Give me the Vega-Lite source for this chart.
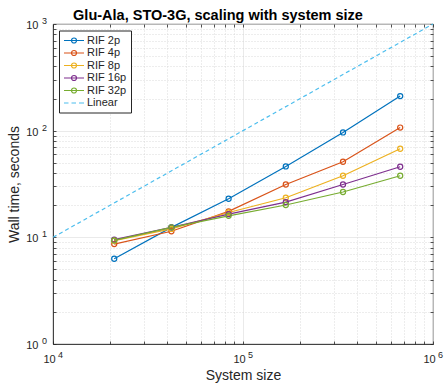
{
  "$schema": "https://vega.github.io/schema/vega-lite/v6.json",
  "width": 380,
  "height": 320,
  "autosize": {"type": "none"},
  "padding": {"left": 53, "top": 24, "right": 12, "bottom": 43},
  "background": "white",
  "config": {
    "view": {"stroke": "#262626", "strokeWidth": 0.8},
    "font": "Liberation Sans"
  },
  "title": {
    "text": "Glu-Ala, STO-3G, scaling with system size",
    "fontSize": 14.5,
    "fontWeight": "bold",
    "font": "Liberation Sans",
    "color": "black",
    "anchor": "middle",
    "dx": -25,
    "dy": 10,
    "offset": 3
  },
  "datasets": {
    "rif": [
      {"size": 21000, "time": 6.3, "series": "RIF 2p"},
      {"size": 42000, "time": 12.4, "series": "RIF 2p"},
      {"size": 84000, "time": 23.0, "series": "RIF 2p"},
      {"size": 168000, "time": 46.2, "series": "RIF 2p"},
      {"size": 336000, "time": 96.2, "series": "RIF 2p"},
      {"size": 672000, "time": 211, "series": "RIF 2p"},
      {"size": 21000, "time": 8.65, "series": "RIF 4p"},
      {"size": 42000, "time": 11.4, "series": "RIF 4p"},
      {"size": 84000, "time": 17.5, "series": "RIF 4p"},
      {"size": 168000, "time": 31.3, "series": "RIF 4p"},
      {"size": 336000, "time": 51.1, "series": "RIF 4p"},
      {"size": 672000, "time": 107, "series": "RIF 4p"},
      {"size": 21000, "time": 9.3, "series": "RIF 8p"},
      {"size": 42000, "time": 12.0, "series": "RIF 8p"},
      {"size": 84000, "time": 17.1, "series": "RIF 8p"},
      {"size": 168000, "time": 23.5, "series": "RIF 8p"},
      {"size": 336000, "time": 37.8, "series": "RIF 8p"},
      {"size": 672000, "time": 67.7, "series": "RIF 8p"},
      {"size": 21000, "time": 9.5, "series": "RIF 16p"},
      {"size": 42000, "time": 12.4, "series": "RIF 16p"},
      {"size": 84000, "time": 16.5, "series": "RIF 16p"},
      {"size": 168000, "time": 21.4, "series": "RIF 16p"},
      {"size": 336000, "time": 31.3, "series": "RIF 16p"},
      {"size": 672000, "time": 45.9, "series": "RIF 16p"},
      {"size": 21000, "time": 9.35, "series": "RIF 32p"},
      {"size": 42000, "time": 12.4, "series": "RIF 32p"},
      {"size": 84000, "time": 15.9, "series": "RIF 32p"},
      {"size": 168000, "time": 20.1, "series": "RIF 32p"},
      {"size": 336000, "time": 26.6, "series": "RIF 32p"},
      {"size": 672000, "time": 37.8, "series": "RIF 32p"}
    ],
    "linear": [
      {"size": 10000, "time": 10, "series": "Linear"},
      {"size": 1000000, "time": 1000, "series": "Linear"}
    ]
  },
  "layer": [
    {
      "data": {"name": "rif"},
      "mark": {"type": "line", "strokeWidth": 1.2},
      "encoding": {
        "x": {
          "field": "size", "type": "quantitative",
          "scale": {"type": "log", "domain": [10000, 1000000], "nice": false},
          "axis": {
            "orient": "bottom",
            "title": "System size",
            "titleFontSize": 14, "titleFontWeight": "normal", "titleColor": "#262626", "titlePadding": 4,
            "values": [10000, 20000, 30000, 40000, 50000, 60000, 70000, 80000, 90000, 100000, 200000, 300000, 400000, 500000, 600000, 700000, 800000, 900000, 1000000],
            "labelExpr": "datum.value == 10000 || datum.value == 100000 || datum.value == 1000000 ? '10' : ''",
            "labelFontSize": 11, "labelColor": "#262626", "labelPadding": 12, "labelOffset": -4, "labelOverlap": false, "labelFlush": false,
            "tickSize": -3, "tickColor": "#262626", "tickWidth": 0.8,
            "domainColor": "#262626", "domainWidth": 0.8,
            "grid": true,
            "gridColor": {"condition": {"test": "datum.value == 10000 || datum.value == 100000 || datum.value == 1000000", "value": "#dedede"}, "value": "#d0d0d0"},
            "gridDash": {"condition": {"test": "datum.value == 10000 || datum.value == 100000 || datum.value == 1000000", "value": [1, 0]}, "value": [1, 2]},
            "gridWidth": 0.8
          }
        },
        "y": {
          "field": "time", "type": "quantitative",
          "scale": {"type": "log", "domain": [1, 1000], "nice": false},
          "axis": {
            "orient": "left",
            "title": "Wall time, seconds",
            "titleFontSize": 14, "titleFontWeight": "normal", "titleColor": "#262626", "titlePadding": 4,
            "values": [1, 2, 3, 4, 5, 6, 7, 8, 9, 10, 20, 30, 40, 50, 60, 70, 80, 90, 100, 200, 300, 400, 500, 600, 700, 800, 900, 1000],
            "labelExpr": "datum.value == 1 || datum.value == 10 || datum.value == 100 || datum.value == 1000 ? '10' : ''",
            "labelFontSize": 11, "labelColor": "#262626", "labelPadding": 18, "labelOffset": 1.5, "labelOverlap": false, "labelFlush": false,
            "tickSize": -3, "tickColor": "#262626", "tickWidth": 0.8,
            "domainColor": "#262626", "domainWidth": 0.8,
            "grid": true,
            "gridColor": {"condition": {"test": "datum.value == 1 || datum.value == 10 || datum.value == 100 || datum.value == 1000", "value": "#dedede"}, "value": "#d0d0d0"},
            "gridDash": {"condition": {"test": "datum.value == 1 || datum.value == 10 || datum.value == 100 || datum.value == 1000", "value": [1, 0]}, "value": [1, 2]},
            "gridWidth": 0.8
          }
        },
        "color": {
          "field": "series", "type": "nominal",
          "scale": {
            "domain": ["RIF 2p", "RIF 4p", "RIF 8p", "RIF 16p", "RIF 32p", "Linear"],
            "range": ["#0072BD", "#D95319", "#EDB120", "#7E2F8E", "#77AC30", "#4DBEEE"]
          },
          "legend": {
            "title": null,
            "orient": "none", "legendX": 6, "legendY": 6.5,
            "fillColor": "white", "strokeColor": "#262626", "padding": 4,
            "symbolType": "M-1,0L3,0M1.5,0A0.5,0.5 0 1,1 0.5,0A0.5,0.5 0 1,1 1.5,0",
            "symbolSize": 100, "symbolStrokeWidth": 1.2, "symbolFillColor": "transparent",
            "labelFontSize": 11, "labelColor": "#262626", "labelOffset": 12, "rowPadding": 1.5,
            "encode": {
              "symbols": {
                "update": {
                  "shape": {"signal": "datum.value === 'Linear' ? 'M-1,0L-0.1,0M0.5,0L1.4,0M2,0L3,0' : 'M-1,0L3,0M1.5,0A0.5,0.5 0 1,1 0.5,0A0.5,0.5 0 1,1 1.5,0'"}
                }
              }
            }
          }
        }
      }
    },
    {
      "data": {"name": "rif"},
      "mark": {"type": "point", "shape": "circle", "filled": false, "size": 26, "strokeWidth": 1.2, "opacity": 1},
      "encoding": {
        "x": {
          "field": "size", "type": "quantitative",
          "axis": {
            "orient": "bottom", "title": null, "grid": false, "domain": false, "ticks": false, "tickSize": 0,
            "values": [10000, 100000, 1000000],
            "labelExpr": "datum.value == 10000 ? '4' : datum.value == 100000 ? '5' : '6'",
            "labelFontSize": 9, "labelColor": "#262626", "labelPadding": 6.5, "labelOffset": 7, "labelOverlap": false, "labelFlush": false
          }
        },
        "y": {
          "field": "time", "type": "quantitative",
          "axis": {
            "orient": "left", "title": null, "grid": false, "domain": false, "ticks": false, "tickSize": 0,
            "values": [1, 10, 100, 1000],
            "labelExpr": "datum.value == 1 ? '0' : datum.value == 10 ? '1' : datum.value == 100 ? '2' : '3'",
            "labelFontSize": 9, "labelColor": "#262626", "labelPadding": 6.5, "labelOffset": -3.5, "labelOverlap": false, "labelFlush": false
          }
        },
        "color": {"field": "series", "type": "nominal"}
      }
    },
    {
      "data": {"name": "linear"},
      "mark": {"type": "line", "strokeWidth": 1.2, "strokeDash": [4, 3]},
      "encoding": {
        "x": {
          "field": "size", "type": "quantitative",
          "axis": {
            "orient": "top", "title": null, "labels": false, "grid": false, "domain": false,
            "values": [10000, 20000, 30000, 40000, 50000, 60000, 70000, 80000, 90000, 100000, 200000, 300000, 400000, 500000, 600000, 700000, 800000, 900000, 1000000],
            "tickSize": -3, "tickColor": "#262626", "tickWidth": 0.8
          }
        },
        "y": {
          "field": "time", "type": "quantitative",
          "axis": {
            "orient": "right", "title": null, "labels": false, "grid": false, "domain": false,
            "values": [1, 2, 3, 4, 5, 6, 7, 8, 9, 10, 20, 30, 40, 50, 60, 70, 80, 90, 100, 200, 300, 400, 500, 600, 700, 800, 900, 1000],
            "tickSize": -3, "tickColor": "#262626", "tickWidth": 0.8
          }
        },
        "color": {"field": "series", "type": "nominal"}
      }
    }
  ],
  "resolve": {"axis": {"x": "independent", "y": "independent"}}
}
